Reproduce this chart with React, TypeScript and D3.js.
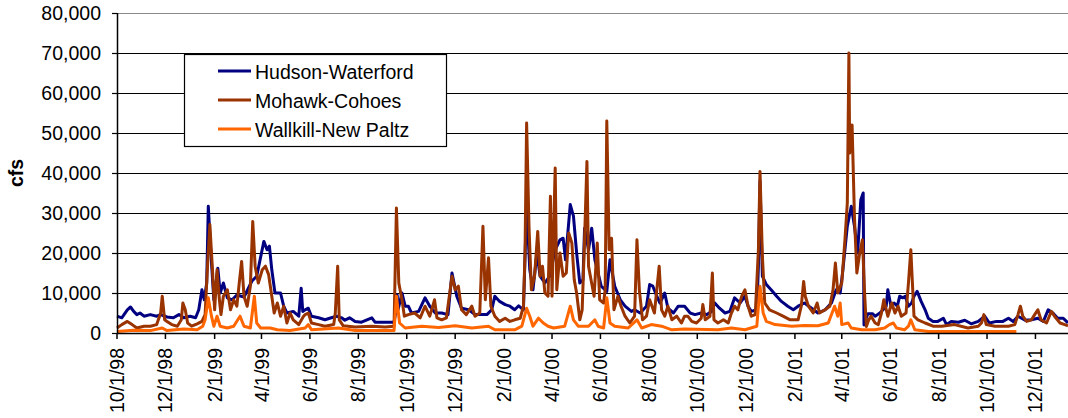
import React from "react";
import * as d3 from "d3";

// Days since 10/1/1998 and daily flow (cfs)
const START = new Date(1998, 9, 1);
const END_DAY = 1198;

const seriesNames = ["Hudson-Waterford", "Mohawk-Cohoes", "Wallkill-New Paltz"];
const seriesColors = ["#000080", "#993300", "#FF6600"];

const hudson: [number, number][] = [
  [0, 4200], [6, 3800], [13, 5800], [17, 6500], [21, 5400], [25, 4600], [29, 5000], [34, 4200],
  [42, 4600], [50, 4200], [55, 4600], [63, 4000], [71, 3800], [78, 4600], [84, 3800], [92, 4200],
  [99, 3800], [103, 5800], [107, 10800], [110, 8300], [113, 12500], [115, 31700], [118, 20800],
  [122, 8300], [127, 16200], [130, 10000], [134, 12500], [139, 8800], [145, 8300], [151, 9500],
  [160, 9000], [170, 13000], [176, 14200], [185, 22900], [189, 20800], [192, 21700], [195, 15800],
  [199, 10000], [206, 10000], [210, 6700], [214, 5000], [222, 5400], [229, 4200], [232, 11200],
  [234, 5400], [237, 5800], [241, 6200], [245, 4200], [254, 3800], [262, 3300], [270, 3800],
  [277, 4200], [283, 3800], [287, 3200], [293, 3800], [300, 2900], [308, 2700], [321, 3800],
  [325, 2700], [338, 2700], [349, 2700], [351, 5000], [353, 9500], [354, 5800], [359, 10000],
  [363, 6700], [367, 6700], [371, 5000], [380, 5400], [388, 8800], [394, 6700], [401, 5000],
  [409, 5000], [417, 4600], [422, 15000], [428, 9200], [434, 6200], [443, 5800], [451, 4600],
  [459, 4600], [466, 4600], [472, 5800], [476, 9200], [482, 7900], [489, 7100], [495, 6700],
  [501, 5800], [506, 6800], [512, 5800], [516, 32000], [520, 15800], [524, 10800], [529, 20000],
  [533, 14200], [539, 12500], [545, 14200], [552, 20800], [558, 23300], [562, 23700], [565, 18300],
  [571, 32100], [575, 29200], [579, 20000], [583, 12500], [587, 13300], [589, 26200], [594, 20800],
  [598, 26200], [602, 18300], [606, 15000], [610, 11700], [617, 10400], [621, 18300], [627, 11700],
  [634, 8300], [640, 6700], [648, 5400], [652, 5800], [659, 5000], [667, 6700], [671, 12100],
  [675, 11700], [680, 9200], [684, 7500], [690, 10000], [694, 6200], [701, 5000], [707, 6700],
  [715, 6700], [722, 5000], [728, 4600], [736, 5000], [743, 4600], [749, 5400], [753, 7500],
  [759, 6200], [766, 5000], [772, 5400], [778, 8800], [785, 7500], [791, 9200], [795, 6700],
  [799, 5400], [806, 5800], [808, 16700], [810, 38000], [813, 14200], [818, 12100], [824, 10800],
  [831, 9200], [837, 7900], [845, 6700], [852, 5800], [858, 6700], [866, 7500], [875, 6200],
  [883, 5000], [892, 5800], [900, 7500], [906, 10800], [911, 10000], [914, 15000], [920, 26700],
  [925, 31700], [929, 26700], [933, 20000], [937, 33300], [940, 35000], [941, 2000], [943, 3300],
  [946, 4800], [952, 4800], [955, 4200], [961, 5000], [965, 5800], [969, 6700], [971, 10800],
  [975, 6700], [979, 7500], [983, 6700], [986, 9200], [990, 8800], [993, 9200], [997, 6700],
  [1001, 7500], [1004, 9200], [1008, 10400], [1013, 7900], [1018, 5800], [1022, 3700], [1028, 2900],
  [1034, 2900], [1041, 3700], [1045, 2100], [1051, 2900], [1060, 2700], [1068, 3200], [1076, 2300],
  [1085, 2900], [1093, 4200], [1099, 2500], [1108, 2900], [1116, 2900], [1123, 3700], [1129, 2900],
  [1135, 4200], [1144, 3200], [1152, 3300], [1160, 3700], [1167, 2900], [1173, 5800], [1179, 5000],
  [1185, 3700], [1192, 3700], [1198, 2500],
];

const mohawk: [number, number][] = [
  [0, 1250], [6, 2100], [13, 2900], [19, 2100], [25, 1250], [34, 1700], [42, 1700], [50, 2100],
  [55, 5000], [57, 9200], [60, 3300], [63, 2900], [69, 2100], [76, 1700], [81, 3300], [83, 7500],
  [86, 5800], [89, 2500], [94, 1700], [101, 2300], [107, 2900], [111, 4600], [114, 16700],
  [117, 27100], [120, 16700], [123, 5800], [126, 15800], [129, 8300], [131, 4600], [134, 9200],
  [139, 10800], [143, 5800], [147, 8300], [151, 6700], [154, 12500], [157, 17900], [160, 9200],
  [164, 6700], [168, 11700], [171, 27900], [174, 16700], [178, 12500], [183, 15800], [187, 16700],
  [191, 14600], [195, 9200], [198, 5000], [202, 7500], [206, 4200], [210, 6700], [214, 2500],
  [218, 5000], [222, 3300], [229, 2100], [235, 4200], [237, 4600], [241, 5000], [245, 2500],
  [254, 2100], [262, 1700], [273, 2100], [275, 5000], [278, 16700], [280, 3300], [285, 1800],
  [300, 1500], [321, 1700], [338, 1500], [349, 1700], [352, 31250], [355, 12500], [359, 8300],
  [362, 4200], [367, 4600], [375, 5000], [382, 3800], [388, 6700], [394, 4200], [400, 8300],
  [403, 3800], [409, 3300], [415, 3800], [422, 14200], [426, 10800], [430, 11700], [434, 5800],
  [440, 4600], [447, 6700], [451, 4200], [457, 5000], [461, 26700], [464, 8300], [468, 18800],
  [471, 6700], [476, 4200], [482, 2900], [489, 3700], [495, 2900], [501, 3300], [508, 3700],
  [512, 6700], [514, 20000], [516, 52500], [519, 26700], [522, 10800], [526, 14200], [530, 25400],
  [533, 14200], [536, 16700], [539, 10000], [543, 9200], [546, 34200], [548, 9200], [552, 41250],
  [554, 10800], [558, 20000], [562, 14200], [566, 15000], [569, 25000], [573, 22500], [576, 13300],
  [579, 10000], [583, 3300], [586, 5800], [589, 23300], [592, 42900], [594, 16700], [601, 9200],
  [605, 22500], [608, 8300], [613, 7500], [615, 10800], [617, 53000], [620, 20800], [623, 23700],
  [626, 5800], [631, 9200], [635, 6700], [640, 4200], [646, 2500], [652, 4200], [655, 23300],
  [658, 10800], [662, 3300], [667, 4200], [671, 8300], [677, 5000], [683, 16700], [686, 5800],
  [690, 4200], [694, 6700], [699, 3300], [705, 4200], [711, 2500], [715, 4200], [719, 4200],
  [724, 2900], [730, 2500], [736, 3700], [738, 7100], [741, 3300], [747, 4200], [750, 15000],
  [752, 3300], [757, 2500], [764, 3300], [770, 2500], [774, 5000], [778, 6700], [782, 5800],
  [787, 9200], [791, 10800], [795, 6700], [799, 4200], [804, 4600], [808, 20800], [810, 40400],
  [813, 19200], [816, 7500], [822, 5800], [831, 5000], [839, 4200], [848, 3300], [858, 3300],
  [862, 6700], [865, 12900], [867, 9200], [871, 6700], [877, 5000], [882, 7500], [885, 5000],
  [892, 5800], [898, 6700], [902, 10800], [905, 17500], [908, 10000], [913, 12500], [917, 23300],
  [920, 32500], [922, 70000], [923, 45000], [926, 52000], [929, 29000], [932, 15000], [935, 19200],
  [939, 23300], [942, 9000], [944, 1600], [947, 3300], [950, 4200], [955, 2500], [959, 2100],
  [963, 5000], [966, 8300], [971, 4200], [976, 7500], [980, 5000], [984, 6700], [988, 4200],
  [994, 5000], [997, 12500], [1000, 20800], [1002, 12500], [1004, 4200], [1009, 3300], [1018, 2500],
  [1028, 1700], [1039, 1700], [1055, 2100], [1072, 1250], [1085, 1700], [1089, 2500], [1092, 4600],
  [1095, 2100], [1106, 1700], [1123, 1700], [1131, 2100], [1135, 4600], [1138, 6700], [1141, 4200],
  [1146, 2900], [1152, 3300], [1156, 4600], [1160, 5800], [1164, 3300], [1171, 2500], [1177, 5400],
  [1181, 4200], [1188, 2500], [1194, 2100], [1198, 1800],
];

const wallkill: [number, number][] = [
  [0, 400], [21, 700], [42, 600], [57, 1250], [63, 600], [84, 1000], [101, 800], [108, 1700],
  [111, 3300], [115, 8800], [119, 4200], [122, 1700], [126, 4200], [130, 1700], [139, 1250],
  [147, 1700], [155, 4200], [160, 1700], [168, 1250], [173, 9200], [176, 2500], [181, 1250],
  [193, 1250], [202, 800], [218, 600], [237, 1250], [241, 2100], [245, 800], [279, 1250],
  [300, 600], [349, 600], [352, 9200], [356, 2500], [363, 1250], [384, 1700], [405, 1400],
  [426, 1800], [447, 1250], [468, 1700], [476, 800], [501, 800], [510, 1700], [516, 6200],
  [520, 4200], [524, 1700], [531, 3700], [537, 2500], [543, 1700], [550, 1250], [564, 1700],
  [571, 6700], [575, 3300], [581, 1700], [594, 1700], [602, 3300], [606, 1700], [613, 1250],
  [617, 8800], [621, 2500], [627, 1700], [644, 1250], [655, 3300], [661, 1250], [673, 2100],
  [686, 1700], [699, 800], [715, 1000], [757, 800], [774, 1250], [791, 800], [806, 1700],
  [810, 11700], [814, 5000], [818, 2900], [829, 2100], [850, 1700], [866, 1900], [883, 1800],
  [896, 2500], [904, 6700], [908, 4200], [911, 7500], [913, 2100], [921, 2500], [925, 1250],
  [938, 800], [955, 800], [967, 1250], [973, 2100], [978, 2500], [982, 1250], [992, 800],
  [997, 1700], [1000, 3300], [1005, 800], [1022, 400], [1060, 400], [1133, 400],
];

const yTicks = [0, 10000, 20000, 30000, 40000, 50000, 60000, 70000, 80000];
const yLabel = "cfs";

const W = 1068;
const H = 418;
const M = { left: 117, right: 1068, top: 13, bottom: 333 };
const FONT = "Liberation Sans, Arial, sans-serif";
const FS = 19.5;

export default function App() {
  const x = d3
    .scaleTime()
    .domain([START, d3.timeDay.offset(START, END_DAY)])
    .range([M.left, M.right]);
  const y = d3.scaleLinear().domain([0, 80000]).range([M.bottom, M.top]);
  const toDate = (d: number) => d3.timeDay.offset(START, d);
  const line = d3
    .line<[number, number]>()
    .x((d) => x(toDate(d[0])))
    .y((d) => y(d[1]));
  const xTicks = d3.timeMonth.range(START, d3.timeDay.offset(START, END_DAY), 2);
  const fmt = d3.timeFormat("%-m/%-d/%y");
  const yFmt = d3.format(",");
  const series = [hudson, mohawk, wallkill];

  const legend = { x0: 184.5, y0: 54.5, x1: 446.5, y1: 146.5 };
  const legendRows = [72, 101, 130];

  return (
    <svg
      width={W}
      height={H}
      style={{ position: "absolute", left: 0, top: 0, background: "#fff" }}
      fontFamily={FONT}
    >
      {/* gridlines */}
      {yTicks.slice(1).map((t) => (
        <line
          key={t}
          x1={M.left}
          x2={M.right}
          y1={Math.round(y(t)) + 0.5}
          y2={Math.round(y(t)) + 0.5}
          stroke={t === 80000 ? "#8a8a8a" : "#000"}
          strokeWidth={1.2}
        />
      ))}
      {/* series */}
      {series.map((s, i) => (
        <path
          key={i}
          d={line(s) || ""}
          fill="none"
          stroke={seriesColors[i]}
          strokeWidth={3}
          strokeLinejoin="round"
        />
      ))}
      {/* axes */}
      <line x1={M.left + 0.5} x2={M.left + 0.5} y1={M.top} y2={M.bottom + 1} stroke="#000" strokeWidth={1.5} />
      <line x1={M.left} x2={M.right} y1={M.bottom + 0.5} y2={M.bottom + 0.5} stroke="#000" strokeWidth={1.5} />
      {yTicks.map((t) => (
        <g key={t}>
          <line x1={M.left - 5} x2={M.left} y1={Math.round(y(t)) + 0.5} y2={Math.round(y(t)) + 0.5} stroke="#000" strokeWidth={1.2} />
          <text x={101} y={y(t)} dy="0.35em" textAnchor="end" fontSize={FS} fill="#000">
            {yFmt(t)}
          </text>
        </g>
      ))}
      {xTicks.map((d, i) => (
        <g key={i}>
          <line x1={x(d)} x2={x(d)} y1={M.bottom} y2={M.bottom + 6} stroke="#000" strokeWidth={1.5} />
          <text
            transform={`translate(${x(d)},${M.bottom + 15}) rotate(-90)`}
            dy="0.36em"
            textAnchor="end"
            fontSize={FS}
            fill="#000"
          >
            {fmt(d)}
          </text>
        </g>
      ))}
      <text
        transform={`translate(16,173) rotate(-90)`}
        dy="0.36em"
        textAnchor="middle"
        fontSize={FS}
        fontWeight="bold"
        fill="#000"
      >
        {yLabel}
      </text>
      {/* legend */}
      <rect
        x={legend.x0}
        y={legend.y0}
        width={legend.x1 - legend.x0}
        height={legend.y1 - legend.y0}
        fill="#fff"
        stroke="#000"
        strokeWidth={1.2}
      />
      {seriesNames.map((n, i) => (
        <g key={n}>
          <line x1={218} x2={251} y1={legendRows[i] - 1} y2={legendRows[i] - 1} stroke={seriesColors[i]} strokeWidth={3} />
          <text x={255} y={legendRows[i]} dy="0.36em" fontSize={FS} fill="#000">
            {n}
          </text>
        </g>
      ))}
    </svg>
  );
}
